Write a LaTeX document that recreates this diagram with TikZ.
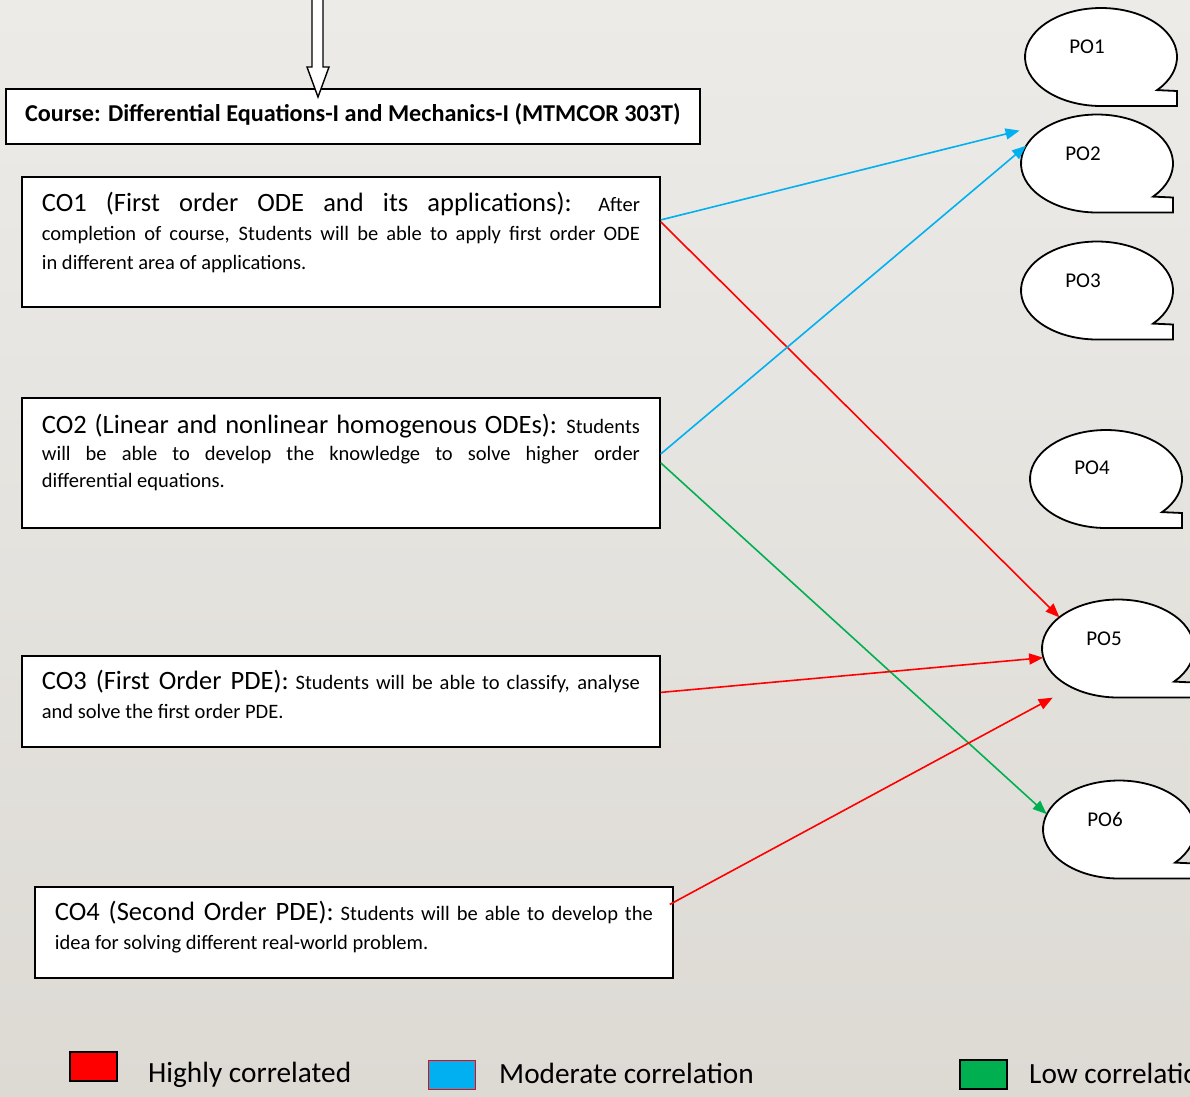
\documentclass[tikz,border=0pt]{standalone}
\usepackage{fontspec}
\setmainfont{Carlito}
\usetikzlibrary{shapes.geometric,arrows.meta}
\definecolor{high}{RGB}{255,0,0}
\definecolor{moderate}{RGB}{0,176,240}
\definecolor{low}{RGB}{0,176,80}
\definecolor{bgtop}{RGB}{236,235,232}
\definecolor{bgbottom}{RGB}{221,218,212}
\newcommand{\cohead}[1]{{\fontsize{26.5}{29}\selectfont #1}}
\tikzset{%
  course/.style  = {shape=rectangle, draw, line width=1.8pt, fill=white,%
                    anchor=north west, minimum width=694pt, minimum height=55pt,%
                    font=\fontsize{24.2}{28}\selectfont\bfseries},%
  cobox/.style   = {shape=rectangle, draw, line width=1.8pt, fill=white,%
                    anchor=north west, inner xsep=20pt, inner ysep=0pt,%
                    text width=598pt, align=justify,%
                    font=\fontsize{20.5}{29}\selectfont},%
  po/.style      = {shape=ellipse, minimum width=152pt, minimum height=97pt, inner sep=0pt},%
  potext/.style  = {font=\fontsize{21}{25}\selectfont, inner sep=0pt},%
  callout/.style = {draw, line width=1.8pt, fill=white},%
  link/.style    = {line width=1.6pt, -{Triangle[length=14pt,width=11pt]}},%
  key/.style     = {shape=rectangle, draw, line width=1.4pt,%
                    minimum width=47pt, minimum height=29pt, inner sep=0pt},%
  keytext/.style = {anchor=base west, inner sep=0pt, font=\fontsize{29.3}{34}\selectfont}%
}
\begin{document}
\begin{tikzpicture}[x=1pt,y=-1pt]
	\shade[top color=bgtop, bottom color=bgbottom] (0,0) rectangle (1190,1096);
	\path[use as bounding box] (0,0) rectangle (1190,1096);
	\clip (0,0) rectangle (1190,1096);
	% course and outcomes
	\node[course] (course) at (5,88) {Course: Differential Equations-I and Mechanics-I (MTMCOR 303T)\rule[-8pt]{0pt}{8pt}};
	\draw[line width=1.4pt, fill=white] (312,-5) -- (312,67) -- (307,67) -- (318,97)
		-- (329,67) -- (323,67) -- (323,-5) -- cycle;
	\node[cobox, minimum height=130pt] (co1) at (21,176) {\cohead{CO1 (First order ODE and its applications):} After\linebreak
		completion of course, Students will be able to apply first order ODE\linebreak
		in different area of applications.\rule[-23pt]{0pt}{23pt}};
	\node[cobox, minimum height=130pt, font=\fontsize{20.5}{27}\selectfont] (co2) at (21,397) {\cohead{CO2 (Linear and nonlinear homogenous ODEs):} Students\linebreak
		will be able to develop the knowledge to solve higher order\linebreak
		differential equations.\rule[-24pt]{0pt}{24pt}};
	\node[cobox, minimum height=91pt] (co3) at (21,655) {\cohead{CO3 (First Order PDE):} Students will be able to classify, analyse\linebreak
		and solve the first order PDE.\rule[-14pt]{0pt}{14pt}};
	\node[cobox, minimum height=91pt] (co4) at (34,886) {\cohead{CO4 (Second Order PDE):} Students will be able to develop the\linebreak
		idea for solving different real-world problem.\rule[-14pt]{0pt}{14pt}};
	% programme outcomes
	\draw[callout] (1101,57) ++(42.5:76 and 49) arc[start angle=42.5, end angle=-270, x radius=76, y radius=49] -- ++(76,0) -- ++(0,-15) -- cycle;
	\node[po] (po1) at (1101,57) {};
	\node[potext] (po1label) at ([shift={(-14,-10)}]po1.center) {PO1};
	\draw[callout] (1097,163.5) ++(42.5:76 and 49) arc[start angle=42.5, end angle=-270, x radius=76, y radius=49] -- ++(76,0) -- ++(0,-15) -- cycle;
	\node[po] (po2) at (1097,163.5) {};
	\node[potext] (po2label) at ([shift={(-14,-10)}]po2.center) {PO2};
	\draw[callout] (1097,290.5) ++(42.5:76 and 49) arc[start angle=42.5, end angle=-270, x radius=76, y radius=49] -- ++(76,0) -- ++(0,-15) -- cycle;
	\node[po] (po3) at (1097,290.5) {};
	\node[potext] (po3label) at ([shift={(-14,-10)}]po3.center) {PO3};
	\draw[callout] (1106,479) ++(42.5:76 and 49) arc[start angle=42.5, end angle=-270, x radius=76, y radius=49] -- ++(76,0) -- ++(0,-15) -- cycle;
	\node[po] (po4) at (1106,479) {};
	\node[potext] (po4label) at ([shift={(-14,-11)}]po4.center) {PO4};
	\draw[callout] (1118,648.5) ++(42.5:76 and 49) arc[start angle=42.5, end angle=-270, x radius=76, y radius=49] -- ++(76,0) -- ++(0,-15) -- cycle;
	\node[po] (po5) at (1118,648.5) {};
	\node[potext] (po5label) at ([shift={(-14,-10)}]po5.center) {PO5};
	\draw[callout] (1119,829.5) ++(42.5:76 and 49) arc[start angle=42.5, end angle=-270, x radius=76, y radius=49] -- ++(76,0) -- ++(0,-15) -- cycle;
	\node[po] (po6) at (1119,829.5) {};
	\node[potext] (po6label) at ([shift={(-14,-10)}]po6.center) {PO6};
	% mapping
	\draw[link, moderate] ([shift={(0,-22)}]co1.east) -- ([shift={(-14,-6)}]po2.157);
	\draw[link, high] ([shift={(0,-20)}]co1.east) -- (po5.152);
	\draw[link, moderate] ([shift={(0,-9)}]co2.east) -- (po2.166);
	\draw[link, low] (co2.east) -- (po6.168);
	\draw[link, high] ([shift={(0,-9)}]co3.east) -- (po5.187);
	\draw[link, high] ([shift={(-4,-28)}]co4.east) -- ([shift={(-16,12)}]po5.217);
	% legend
	\node[key, fill=high] (keyhigh) at (93.5,1066.5) {};
	\node[keytext] (keyhightext) at (148,1082) {Highly correlated};
	\node[key, fill=moderate, draw=high] (keymod) at (452,1075) {};
	\node[keytext] (keymodtext) at (499,1083) {Moderate correlation};
	\node[key, fill=low] (keylow) at (983.5,1074.5) {};
	\node[keytext] (keylowtext) at (1029,1083) {Low correlation};
\end{tikzpicture}
\end{document}
